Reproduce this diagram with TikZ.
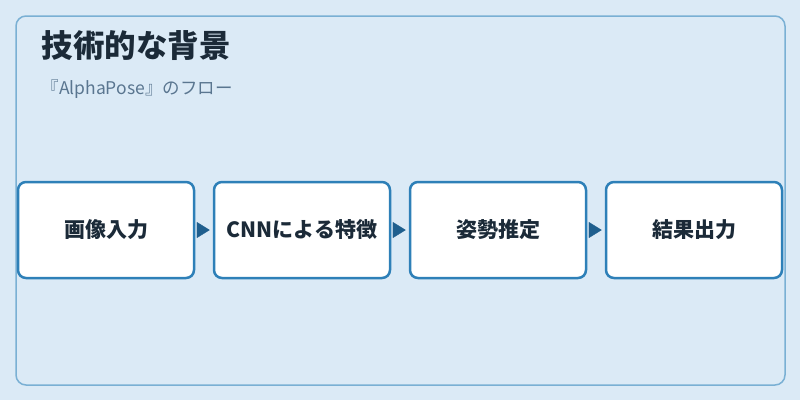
\documentclass[tikz,border=0pt]{standalone}
\usepackage{fontspec}
\setmainfont{Noto Sans CJK JP}
\usetikzlibrary{arrows.meta}

\definecolor{bgblue}{HTML}{DBEAF6}
\definecolor{panelline}{HTML}{7AB0D4}
\definecolor{boxline}{HTML}{2E80B8}
\definecolor{tipblue}{HTML}{1F5F8E}
\definecolor{titletext}{HTML}{1B2A38}
\definecolor{subtext}{HTML}{5A7690}

\begin{document}
\begin{tikzpicture}[x=1pt, y=-1pt,
  stepbox/.style={draw=boxline, fill=white, line width=2.5pt, rounded corners=8pt,
    minimum width=176pt, minimum height=96pt, inner sep=0pt,
    text=titletext, font=\fontsize{21}{24}\selectfont\bfseries},
  flowarrow/.style={tipblue, line width=0.4pt, shorten <=2pt, shorten >=3pt,
    -{Triangle[length=13pt, width=16pt]}}]
\useasboundingbox[fill=bgblue] (0, 0) rectangle (800, 400);

\draw[panelline, line width=1.5pt, rounded corners=10pt] (16, 16) rectangle (785, 385);

\draw (38, 46) node[anchor=west, text=titletext, font=\fontsize{31.5}{35}\selectfont\bfseries] (title) {技術的な背景};
\draw (38, 89) node[anchor=west, text=subtext, font=\fontsize{17.5}{20}\selectfont] (subtitle) {『AlphaPose』のフロー};

\draw (106, 230) node[stepbox] (input) {画像入力};
\draw (302, 230) node[stepbox] (cnn) {CNNによる特徴};
\draw (498, 230) node[stepbox] (pose) {姿勢推定};
\draw (694, 230) node[stepbox] (output) {結果出力};

\draw[flowarrow] (input.east) -- (cnn.west);
\draw[flowarrow] (cnn.east) -- (pose.west);
\draw[flowarrow] (pose.east) -- (output.west);

\end{tikzpicture}
\end{document}
